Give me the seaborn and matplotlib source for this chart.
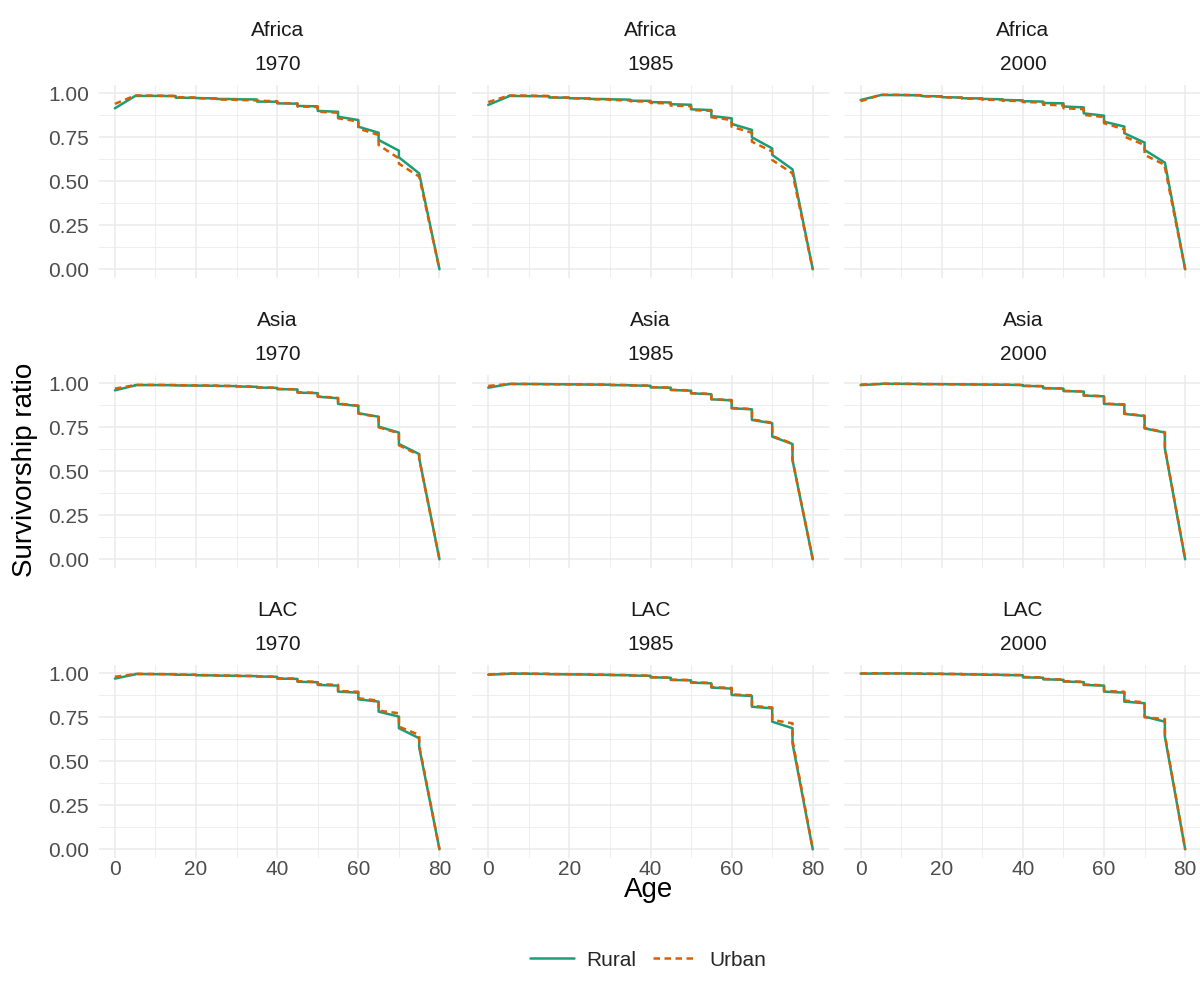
import numpy as np
import pandas as pd
import matplotlib
matplotlib.use("Agg")
import matplotlib.pyplot as plt
from matplotlib.lines import Line2D
import seaborn as sns

sns.set_theme(style="white")
plt.rcParams['font.family'] = ['Liberation Sans', 'DejaVu Sans']

# ---------------- data ----------------
AGES = [0, 5, 10, 15, 20, 25, 30, 35, 40, 45, 50, 55, 60, 65, 70, 75]
REGIONS = ["Africa", "Asia", "LAC"]
YEARS = [1970, 1985, 2000]
RESIDENCE = ["Rural", "Urban"]
X_TICKS = [0, 20, 40, 60, 80]
Y_TICKS = [0.00, 0.25, 0.50, 0.75, 1.00]
Y_TICK_LABELS = ["0.00", "0.25", "0.50", "0.75", "1.00"]

# value at the start of each 5-year age group (S) and at its end (E)
AF1970_RURAL_S = [0.915, 0.985, 0.985, 0.975, 0.973, 0.968, 0.966, 0.953, 0.943, 0.928, 0.900, 0.867, 0.810, 0.735, 0.636, 0.545]
AF1970_RURAL_E = [0.985, 0.985, 0.984, 0.974, 0.971, 0.967, 0.965, 0.952, 0.941, 0.926, 0.895, 0.848, 0.776, 0.674, 0.545, 0.0]
AF1970_URBAN_S = [0.940, 0.988, 0.987, 0.978, 0.972, 0.965, 0.962, 0.958, 0.945, 0.925, 0.895, 0.858, 0.800, 0.706, 0.600, 0.527]
AF1970_URBAN_E = [0.988, 0.987, 0.985, 0.976, 0.970, 0.963, 0.960, 0.955, 0.942, 0.922, 0.890, 0.840, 0.763, 0.630, 0.527, 0.0]

AF1985_RURAL_S = [0.934, 0.985, 0.984, 0.976, 0.972, 0.968, 0.966, 0.958, 0.950, 0.938, 0.909, 0.871, 0.826, 0.750, 0.650, 0.568]
AF1985_RURAL_E = [0.982, 0.984, 0.983, 0.975, 0.971, 0.967, 0.964, 0.957, 0.948, 0.935, 0.905, 0.858, 0.792, 0.687, 0.568, 0.0]
AF1985_URBAN_S = [0.950, 0.988, 0.987, 0.977, 0.972, 0.966, 0.962, 0.955, 0.945, 0.930, 0.905, 0.864, 0.810, 0.725, 0.621, 0.545]
AF1985_URBAN_E = [0.987, 0.987, 0.985, 0.976, 0.970, 0.965, 0.960, 0.953, 0.943, 0.927, 0.900, 0.848, 0.776, 0.669, 0.545, 0.0]

AF2000_RURAL_S = [0.962, 0.990, 0.990, 0.984, 0.978, 0.972, 0.968, 0.962, 0.955, 0.945, 0.925, 0.886, 0.839, 0.773, 0.678, 0.606]
AF2000_RURAL_E = [0.990, 0.990, 0.988, 0.983, 0.976, 0.971, 0.966, 0.960, 0.953, 0.943, 0.920, 0.873, 0.811, 0.720, 0.606, 0.0]
AF2000_URBAN_S = [0.955, 0.992, 0.991, 0.983, 0.977, 0.970, 0.964, 0.958, 0.950, 0.935, 0.915, 0.877, 0.830, 0.754, 0.650, 0.580]
AF2000_URBAN_E = [0.992, 0.991, 0.989, 0.982, 0.975, 0.968, 0.962, 0.956, 0.948, 0.932, 0.910, 0.865, 0.795, 0.706, 0.593, 0.0]

AS1970_RURAL_S = [0.960, 0.990, 0.990, 0.988, 0.987, 0.985, 0.982, 0.976, 0.967, 0.947, 0.924, 0.883, 0.830, 0.754, 0.655, 0.575]
AS1970_RURAL_E = [0.988, 0.990, 0.989, 0.987, 0.986, 0.984, 0.980, 0.974, 0.965, 0.944, 0.915, 0.871, 0.810, 0.720, 0.598, 0.0]
AS1970_URBAN_S = [0.970, 0.991, 0.991, 0.989, 0.988, 0.986, 0.983, 0.977, 0.968, 0.949, 0.926, 0.885, 0.828, 0.750, 0.648, 0.570]
AS1970_URBAN_E = [0.990, 0.991, 0.990, 0.988, 0.987, 0.985, 0.981, 0.975, 0.966, 0.946, 0.917, 0.873, 0.808, 0.716, 0.592, 0.0]

AS1985_RURAL_S = [0.975, 0.996, 0.996, 0.995, 0.994, 0.993, 0.990, 0.988, 0.977, 0.962, 0.943, 0.909, 0.858, 0.792, 0.697, 0.564]
AS1985_RURAL_E = [0.995, 0.996, 0.995, 0.994, 0.993, 0.992, 0.989, 0.986, 0.975, 0.958, 0.938, 0.903, 0.852, 0.773, 0.655, 0.0]
AS1985_URBAN_S = [0.985, 0.997, 0.996, 0.995, 0.994, 0.993, 0.991, 0.988, 0.978, 0.963, 0.944, 0.910, 0.860, 0.795, 0.700, 0.566]
AS1985_URBAN_E = [0.996, 0.996, 0.995, 0.994, 0.993, 0.992, 0.990, 0.987, 0.976, 0.960, 0.940, 0.905, 0.854, 0.776, 0.658, 0.0]

AS2000_RURAL_S = [0.990, 0.997, 0.997, 0.995, 0.995, 0.994, 0.993, 0.992, 0.985, 0.972, 0.956, 0.930, 0.883, 0.826, 0.744, 0.630]
AS2000_RURAL_E = [0.996, 0.997, 0.996, 0.995, 0.994, 0.993, 0.992, 0.990, 0.983, 0.970, 0.953, 0.926, 0.878, 0.814, 0.720, 0.0]
AS2000_URBAN_S = [0.993, 0.998, 0.997, 0.996, 0.995, 0.994, 0.993, 0.992, 0.986, 0.973, 0.957, 0.931, 0.885, 0.828, 0.746, 0.632]
AS2000_URBAN_E = [0.997, 0.997, 0.996, 0.995, 0.994, 0.993, 0.992, 0.991, 0.984, 0.971, 0.954, 0.927, 0.880, 0.816, 0.722, 0.0]

LAC1970_RURAL_S = [0.970, 0.996, 0.995, 0.992, 0.989, 0.987, 0.985, 0.982, 0.970, 0.952, 0.934, 0.896, 0.852, 0.782, 0.688, 0.580]
LAC1970_RURAL_E = [0.994, 0.995, 0.994, 0.991, 0.988, 0.986, 0.984, 0.980, 0.968, 0.949, 0.930, 0.890, 0.839, 0.754, 0.631, 0.0]
LAC1970_URBAN_S = [0.980, 0.997, 0.996, 0.993, 0.990, 0.988, 0.986, 0.983, 0.972, 0.955, 0.938, 0.900, 0.858, 0.788, 0.697, 0.590]
LAC1970_URBAN_E = [0.996, 0.996, 0.995, 0.992, 0.989, 0.987, 0.985, 0.981, 0.970, 0.952, 0.935, 0.895, 0.845, 0.773, 0.650, 0.0]

LAC1985_RURAL_S = [0.992, 0.998, 0.997, 0.995, 0.994, 0.992, 0.990, 0.987, 0.977, 0.962, 0.947, 0.919, 0.877, 0.810, 0.725, 0.602]
LAC1985_RURAL_E = [0.997, 0.998, 0.996, 0.994, 0.993, 0.991, 0.989, 0.986, 0.975, 0.960, 0.943, 0.913, 0.871, 0.801, 0.688, 0.0]
LAC1985_URBAN_S = [0.994, 0.999, 0.998, 0.996, 0.995, 0.993, 0.991, 0.988, 0.978, 0.964, 0.949, 0.922, 0.880, 0.815, 0.735, 0.620]
LAC1985_URBAN_E = [0.998, 0.998, 0.997, 0.995, 0.994, 0.992, 0.990, 0.987, 0.976, 0.962, 0.946, 0.917, 0.875, 0.806, 0.716, 0.0]

LAC2000_RURAL_S = [0.998, 0.999, 0.999, 0.997, 0.996, 0.994, 0.992, 0.990, 0.977, 0.966, 0.953, 0.934, 0.896, 0.839, 0.754, 0.640]
LAC2000_RURAL_E = [0.999, 0.999, 0.998, 0.997, 0.995, 0.993, 0.991, 0.989, 0.975, 0.963, 0.950, 0.930, 0.890, 0.830, 0.725, 0.0]
LAC2000_URBAN_S = [0.999, 1.000, 0.999, 0.998, 0.997, 0.995, 0.993, 0.991, 0.979, 0.968, 0.955, 0.936, 0.900, 0.845, 0.750, 0.650]
LAC2000_URBAN_E = [1.000, 0.999, 0.998, 0.997, 0.996, 0.994, 0.992, 0.990, 0.977, 0.965, 0.952, 0.932, 0.895, 0.835, 0.740, 0.0]

SERIES = {
    ("Africa", 1970, "Rural"): (AF1970_RURAL_S, AF1970_RURAL_E),
    ("Africa", 1970, "Urban"): (AF1970_URBAN_S, AF1970_URBAN_E),
    ("Africa", 1985, "Rural"): (AF1985_RURAL_S, AF1985_RURAL_E),
    ("Africa", 1985, "Urban"): (AF1985_URBAN_S, AF1985_URBAN_E),
    ("Africa", 2000, "Rural"): (AF2000_RURAL_S, AF2000_RURAL_E),
    ("Africa", 2000, "Urban"): (AF2000_URBAN_S, AF2000_URBAN_E),
    ("Asia", 1970, "Rural"): (AS1970_RURAL_S, AS1970_RURAL_E),
    ("Asia", 1970, "Urban"): (AS1970_URBAN_S, AS1970_URBAN_E),
    ("Asia", 1985, "Rural"): (AS1985_RURAL_S, AS1985_RURAL_E),
    ("Asia", 1985, "Urban"): (AS1985_URBAN_S, AS1985_URBAN_E),
    ("Asia", 2000, "Rural"): (AS2000_RURAL_S, AS2000_RURAL_E),
    ("Asia", 2000, "Urban"): (AS2000_URBAN_S, AS2000_URBAN_E),
    ("LAC", 1970, "Rural"): (LAC1970_RURAL_S, LAC1970_RURAL_E),
    ("LAC", 1970, "Urban"): (LAC1970_URBAN_S, LAC1970_URBAN_E),
    ("LAC", 1985, "Rural"): (LAC1985_RURAL_S, LAC1985_RURAL_E),
    ("LAC", 1985, "Urban"): (LAC1985_URBAN_S, LAC1985_URBAN_E),
    ("LAC", 2000, "Rural"): (LAC2000_RURAL_S, LAC2000_RURAL_E),
    ("LAC", 2000, "Urban"): (LAC2000_URBAN_S, LAC2000_URBAN_E),
}

rows = []
for (reg, yr, res), (s_vals, e_vals) in SERIES.items():
    order = 0
    for age, s, e in zip(AGES, s_vals, e_vals):
        rows.append(dict(region=reg, year=yr, Residence=res, Age=age, ratio=s, order=order)); order += 1
        rows.append(dict(region=reg, year=yr, Residence=res, Age=age + 5, ratio=e, order=order)); order += 1
df = pd.DataFrame(rows)

# ---------------- figure ----------------
W, H = 1200, 992
fig = plt.figure(figsize=(W / 100, H / 100), dpi=100)

palette = {"Rural": "#1B9E77", "Urban": "#D95F02"}
dashes = {"Rural": "", "Urban": (2.6, 1.8)}

col_left = [98.7, 472.0, 844.4]
col_w = 357.0
row_top = [84.5, 374.5, 664.5]
row_h = 193.6

TICK_FS = 15
STRIP_FS = 15
TITLE_FS = 20
grid_col = "#EBEBEB"

for i, reg in enumerate(REGIONS):
    for j, yr in enumerate(YEARS):
        ax = fig.add_axes([col_left[j] / W, 1 - (row_top[i] + row_h) / H, col_w / W, row_h / H])
        sub = df[(df.region == reg) & (df.year == yr)].sort_values(["Residence", "order"])
        sns.lineplot(data=sub, x="Age", y="ratio", hue="Residence", style="Residence",
                     units="Residence", estimator=None, sort=False,
                     palette=palette, dashes=dashes, linewidth=1.8, ax=ax, legend=False,
                     hue_order=RESIDENCE, style_order=RESIDENCE)
        ax.set_xlim(-4, 84)
        ax.set_ylim(-0.05, 1.05)
        ax.set_xticks(X_TICKS)
        ax.set_xticks([10, 30, 50, 70], minor=True)
        ax.set_yticks(Y_TICKS)
        ax.set_yticks([0.125, 0.375, 0.625, 0.875], minor=True)
        ax.grid(True, which="major", color=grid_col, linewidth=1.1, zorder=0)
        ax.grid(True, which="minor", color=grid_col, linewidth=0.6, zorder=0)
        ax.set_axisbelow(True)
        for sp in ax.spines.values():
            sp.set_visible(False)
        ax.tick_params(which="both", length=0)
        ax.tick_params(axis="y", pad=7, labelsize=TICK_FS, labelcolor="#4D4D4D")
        ax.tick_params(axis="x", pad=1.5, labelsize=TICK_FS, labelcolor="#4D4D4D")
        if j == 0:
            ax.set_yticklabels(Y_TICK_LABELS)
        else:
            ax.set_yticklabels([])
        if i == 2:
            ax.set_xticklabels([str(t) for t in X_TICKS])
        else:
            ax.set_xticklabels([])
        ax.set_xlabel("")
        ax.set_ylabel("")
        ax.annotate(str(yr), xy=(0.5, 1), xycoords="axes fraction", xytext=(0, 14.5),
                    textcoords="offset points", ha="center", va="center",
                    fontsize=STRIP_FS, color="#1A1A1A")
        ax.annotate(reg, xy=(0.5, 1), xycoords="axes fraction", xytext=(0, 39),
                    textcoords="offset points", ha="center", va="center",
                    fontsize=STRIP_FS, color="#1A1A1A")

fig.text(649 / W, 1 - 890 / H, "Age", ha="center", va="center", fontsize=TITLE_FS, color="black")
fig.text(25 / W, 1 - 470 / H, "Survivorship ratio", ha="center", va="center",
         rotation=90, fontsize=TITLE_FS, color="black")

handles = [Line2D([0], [0], color=palette["Rural"], lw=1.8),
           Line2D([0], [0], color=palette["Urban"], lw=1.8, dashes=(2.6, 1.8))]
fig.legend(handles, RESIDENCE, loc="center", bbox_to_anchor=(648 / W, 1 - 960 / H),
           ncol=2, frameon=False, fontsize=TICK_FS, handlelength=2.1,
           columnspacing=0.8, handletextpad=0.6)

fig.savefig("out.png", dpi=100, facecolor="white")
